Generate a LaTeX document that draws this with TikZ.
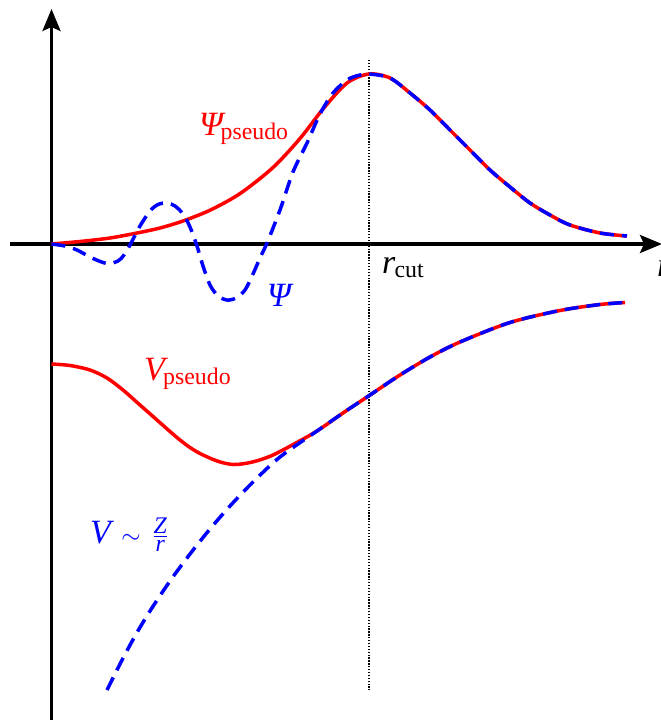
\documentclass[tikz,border=0pt]{standalone}
\usepackage{amsmath}
\usepackage{fontspec}
\setmainfont{Liberation Serif}
\usetikzlibrary{arrows.meta}
\newcommand\lsub[2][0pt]{\kern#1\raisebox{-4pt}{\fontsize{23.8}{26}\selectfont #2}}
\begin{document}
\begin{tikzpicture}[x=1pt,y=-1pt,
  lab/.style={inner sep=0pt, anchor=base west, font=\fontsize{34}{40}\selectfont},
  axisline/.style={line width=3.2pt, -{Stealth[length=22pt,width=18pt,inset=4pt]}},
  redcurve/.style={red, line width=3.5pt},
  bluecurve/.style={blue, line width=3.5pt, dash pattern=on 14pt off 8pt},
  cutline/.style={line width=1.3pt, dash pattern=on 1.3pt off 1.6pt}]
\useasboundingbox (0,0) rectangle (661,720);
% axes
\draw[axisline] (51.5,730) -- (51.5,9);
\draw[axisline] (10,244) -- (662,244);
\draw[cutline] (369,60) -- (369,690);
% wave functions
\draw[redcurve] plot[smooth] coordinates {(51.5,244) (80,241.5) (110,238) (137,233) (160,228) (183,221) (210,210.2) (240,193.6) (273,167.5) (300,138.5) (323,109) (347,83) (369,74) (390,78) (410,93) (430,110) (450,130) (470,150) (490,170) (510,187) (530,203) (550,215) (570,225) (600,233) (627,236)};
\draw[bluecurve] plot[smooth] coordinates {(51.5,244) (65,246) (77,250) (92,258) (107,263.5) (118,261) (124,255) (130,245) (140,226) (150,211) (158,204.5) (167,203) (175,206) (183,214) (190,227) (197,246) (203,266) (210,285) (218,296) (227,300) (236,298) (245,290) (253,274) (260,258) (267,243) (280,210) (293,172) (307,143) (320,114) (333,93) (347,80) (358,75.5) (369,74) (390,78) (410,93) (430,110) (450,130) (470,150) (490,170) (510,187) (530,203) (550,215) (570,225) (600,233) (627,236)};
% potentials
\draw[redcurve] plot[smooth] coordinates {(51.5,364) (70,365.5) (90,370) (107,378) (123,390) (140,405) (157,420) (170,431.5) (180,440) (190,447.5) (200,453.5) (212,459) (222,462.5) (233,464.5) (245,463.5) (258,460.5) (273,455) (295,443.5) (317,431) (343,413) (370,395) (400,375) (430,357) (460,342) (510,322.5) (560,310.5) (600,304.5) (625,302.5)};
\draw[bluecurve] plot[smooth] coordinates {(107,690) (120,664) (135,636) (150,611) (170,581) (190,554) (210,529) (230,506) (253,482) (280,457) (317,431) (343,413) (370,395) (400,375) (430,357) (460,342) (510,322.5) (560,310.5) (600,304.5) (625,302.5)};
% labels
\node[lab, red] (psip) at (199,135) {\textit{Ψ}\lsub[-5pt]{pseudo}};
\node[lab, blue] (psi) at (267,306) {\textit{Ψ}};
\node[lab] (rcut) at (382,273) {\textit{r}\lsub[-1pt]{cut}};
\node[lab] (rlab) at (657,276) {\textit{r}};
\node[lab, red] (vp) at (144,380) {\textit{V}\lsub[-5pt]{pseudo}};
\node[lab, blue] (vz) at (90,543) {$\textit{V}\mskip2.5mu\sim\mskip3.5mu\frac{\textit{Z}}{\textit{r}}$};
\end{tikzpicture}
\end{document}
